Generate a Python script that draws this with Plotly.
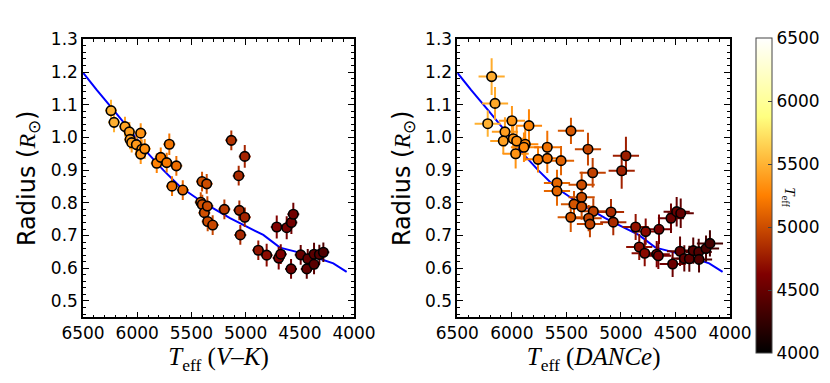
import plotly.graph_objects as go
from plotly.subplots import make_subplots
from plotly.colors import sample_colorscale

# V-K temperatures (left panel)
teff_vk = [6242, 6214, 6113, 6073, 6066, 6051, 6008, 5968, 5958, 5968, 5931, 5820, 5783, 5728,
           5704, 5639, 5679, 5580, 5414, 5400, 5402, 5359, 5381, 5353, 5350, 5304, 5196, 5132,
           5008, 5064, 5058, 5008, 5049, 4883, 4806, 4713, 4695, 4676, 4621, 4578, 4560, 4581,
           4492, 4436, 4427, 4369, 4369, 4320, 4283]
rad_vk = [1.082, 1.046, 1.033, 1.017, 0.994, 0.984, 0.978, 1.013, 0.964, 0.949, 0.965, 0.921, 0.939, 0.923,
          0.979, 0.913, 0.851, 0.839, 0.802, 0.795, 0.865, 0.858, 0.770, 0.790, 0.743, 0.732, 0.780, 0.991,
          0.942, 0.883, 0.777, 0.756, 0.702, 0.655, 0.640, 0.726, 0.631, 0.643, 0.724, 0.740, 0.765, 0.598,
          0.641, 0.598, 0.629, 0.643, 0.612, 0.642, 0.649]
terr_vk = [55] * len(teff_vk)
rerr_vk = [0.033, 0.03, 0.03, 0.03, 0.03, 0.03, 0.03, 0.03, 0.03, 0.03, 0.03, 0.03, 0.03, 0.03,
           0.033, 0.03, 0.03, 0.03, 0.03, 0.03, 0.03, 0.03, 0.03, 0.03, 0.03, 0.03, 0.03, 0.03,
           0.035, 0.03, 0.03, 0.03, 0.03, 0.03, 0.035, 0.035, 0.035, 0.03, 0.035, 0.035, 0.035, 0.03,
           0.03, 0.03, 0.03, 0.035, 0.03, 0.03, 0.03]

# DANCe temperatures (right panel)
teff_dc = [6185, 6154, 6221, 5999, 6063, 6078, 5987, 5956, 5965, 5877, 5889, 5843, 5760, 5675,
           5675, 5549, 5458, 5586, 5586, 5302, 5259, 5360, 5360, 5430, 5360, 5460, 5253, 5296,
           5284, 5091, 5070, 4954, 4993, 4865, 4773, 4651, 4832, 4782, 4672, 4657, 4541, 4489,
           4452, 4526, 4458, 4419, 4373, 4337, 4287, 4284, 4220, 4184]
rad_dc = [1.186, 1.104, 1.042, 1.051, 1.017, 0.989, 0.996, 0.989, 0.950, 0.979, 0.970, 1.036, 0.933, 0.970,
          0.936, 0.929, 1.020, 0.861, 0.836, 0.964, 0.892, 0.855, 0.817, 0.796, 0.788, 0.756, 0.774, 0.753,
          0.735, 0.772, 0.741, 0.944, 0.898, 0.726, 0.712, 0.719, 0.665, 0.646, 0.643, 0.638, 0.753, 0.773,
          0.768, 0.613, 0.652, 0.630, 0.629, 0.654, 0.650, 0.627, 0.660, 0.676]
terr_dc = [120] * len(teff_dc)
rerr_dc = [0.056, 0.05, 0.04, 0.045, 0.045, 0.04, 0.045, 0.045, 0.045, 0.05, 0.045, 0.05, 0.04, 0.05,
           0.045, 0.045, 0.04, 0.04, 0.045, 0.05, 0.045, 0.04, 0.04, 0.04, 0.04, 0.045, 0.04, 0.04,
           0.04, 0.04, 0.04, 0.058, 0.055, 0.04, 0.04, 0.045, 0.04, 0.04, 0.04, 0.04, 0.045, 0.045,
           0.045, 0.04, 0.045, 0.04, 0.04, 0.04, 0.04, 0.04, 0.04, 0.04]

# model curve
model_teff = [6500, 6374, 6220, 6069, 5913, 5759, 5605, 5451, 5298, 5144, 4990, 4837, 4683,
              4529, 4344, 4191, 4068]
model_rad = [1.198, 1.145, 1.084, 1.023, 0.956, 0.900, 0.849, 0.814, 0.783, 0.753, 0.727, 0.702, 0.663,
             0.650, 0.632, 0.615, 0.589]

# afmhot
afmhot = [[0, "rgb(0,0,0)"], [0.25, "rgb(128,0,0)"], [0.5, "rgb(255,128,0)"],
          [0.75, "rgb(255,255,128)"], [1, "rgb(255,255,255)"]]
pt_min, pt_max = 3600, 8000

fig = make_subplots(rows=1, cols=2)

panels = [(teff_vk, rad_vk, terr_vk, rerr_vk, 1), (teff_dc, rad_dc, terr_dc, rerr_dc, 2)]
for tt, rr, te, re, col in panels:
    fig.add_trace(go.Scatter(x=model_teff, y=model_rad, mode="lines",
                             line=dict(color="#0000ff", width=2), showlegend=False), row=1, col=col)
    cols = sample_colorscale(afmhot, [(t - pt_min) / (pt_max - pt_min) for t in tt])
    for t, r, dt, dr, c in zip(tt, rr, te, re, cols):
        fig.add_trace(go.Scatter(
            x=[t], y=[r], mode="markers", marker=dict(size=2, opacity=0),
            error_x=dict(type="data", array=[dt], color=c, thickness=2, width=0),
            error_y=dict(type="data", array=[dr], color=c, thickness=2, width=0),
            showlegend=False, hoverinfo="skip"), row=1, col=col)
    fig.add_trace(go.Scatter(
        x=tt, y=rr, mode="markers",
        marker=dict(size=9.5, color=tt, colorscale=afmhot, cmin=pt_min, cmax=pt_max,
                    line=dict(color="black", width=1.6)),
        showlegend=False), row=1, col=col)

# colorbar
fig.add_trace(go.Scatter(
    x=[None], y=[None], mode="markers",
    marker=dict(size=0, color=[4000, 6500], colorscale=afmhot, cmin=4000, cmax=6500, showscale=True,
                colorbar=dict(x=0.9012, xanchor="left", y=0.5104, yanchor="middle", len=0.822,
                              lenmode="fraction", thickness=16, xpad=0, ypad=0,
                              outlinewidth=1, outlinecolor="#444",
                              tickvals=[4000, 4500, 5000, 5500, 6000, 6500],
                              ticks="inside", ticklen=4, tickcolor="#444",
                              tickfont=dict(size=17, color="black"))),
    showlegend=False, hoverinfo="skip"), row=1, col=2)

axis_style = dict(showline=True, linewidth=1.5, linecolor="black", mirror="allticks",
                  ticks="inside", ticklen=6, tickwidth=1.2, tickcolor="black", automargin=False,
                  showgrid=False, zeroline=False, tickfont=dict(size=17, color="black"))

fig.update_xaxes(range=[6500, 4000], dtick=500, tick0=4000,
                 minor=dict(ticks="inside", dtick=100, ticklen=3, tickcolor="black"),
                 **axis_style)
fig.update_yaxes(range=[0.45, 1.3], dtick=0.1, tick0=0.5, tickformat=".1f",
                 minor=dict(ticks="inside", dtick=0.02, ticklen=3, tickcolor="black"),
                 **axis_style)

# page body adds ~8px offset, domains compensate for it
fig.update_xaxes(domain=[0.0904, 0.4169], row=1, col=1)
fig.update_xaxes(domain=[0.5413, 0.8699], row=1, col=2)
fig.update_yaxes(domain=[0.1924, 0.9183])

serif = "Liberation Serif"
xt1 = f"<span style='font-family:{serif}'><i>T</i><sub>eff</sub> (<i>V</i>\u2013<i>K</i>)</span>"
xt2 = f"<span style='font-family:{serif}'><i>T</i><sub>eff</sub> (<i>DANCe</i>)</span>"
yt = f"Radius (<span style='font-family:{serif}'><i>R</i><sub>\u2299</sub></span>)"
fig.update_xaxes(title=dict(text=xt1, font=dict(size=25, color="black"), standoff=2), row=1, col=1)
fig.update_xaxes(title=dict(text=xt2, font=dict(size=25, color="black"), standoff=2), row=1, col=2)
fig.update_yaxes(title=dict(text=yt, font=dict(size=24, color="black"), standoff=8))

fig.add_annotation(text=f"<span style='font-family:{serif}'><i>T</i><sub>eff</sub></span>",
                   x=0.955, y=0.507, xref="paper", yref="paper", showarrow=False, textangle=90,
                   font=dict(size=15, color="black"))

fig.update_layout(width=830, height=383, margin=dict(l=0, r=0, t=0, b=0, autoexpand=False),
                  paper_bgcolor="white", plot_bgcolor="white",
                  font=dict(family="DejaVu Sans", color="black"))

fig.write_html("out.html")
